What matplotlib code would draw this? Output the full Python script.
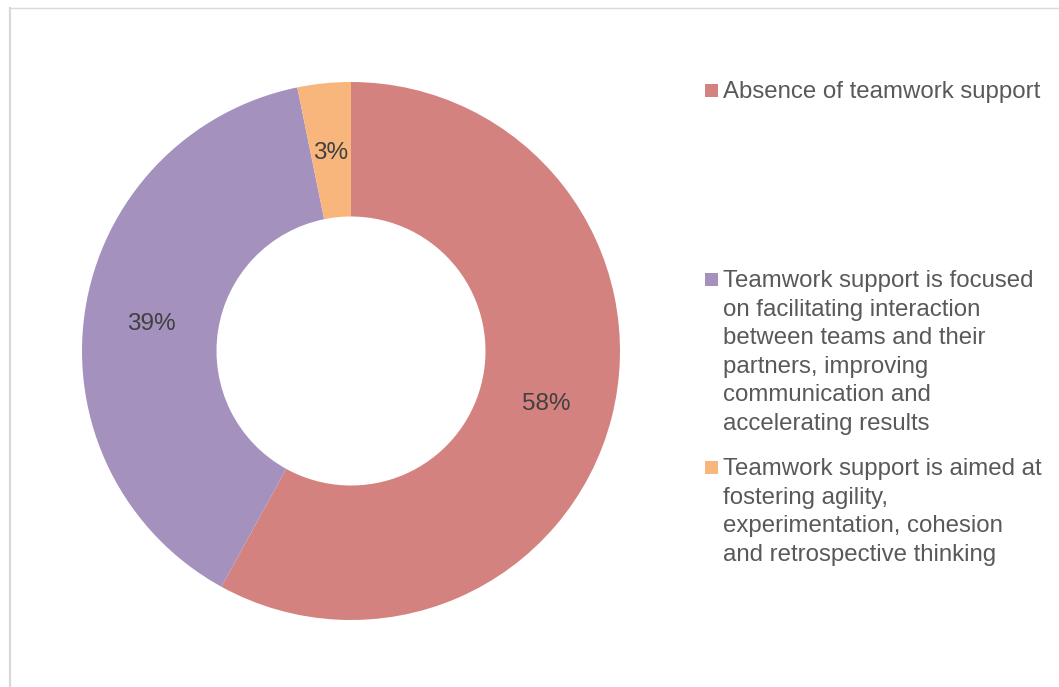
import matplotlib
matplotlib.use("Agg")
import matplotlib.pyplot as plt
from matplotlib.lines import Line2D
from matplotlib.patches import Rectangle
from matplotlib.transforms import offset_copy

categories = [
    "Absence of teamwork support",
    "Teamwork support is focused\non facilitating interaction\nbetween teams and their\npartners, improving\ncommunication and\naccelerating results",
    "Teamwork support is aimed at\nfostering agility,\nexperimentation, cohesion\nand retrospective thinking",
]
values = [58.0, 38.8, 3.2]
pct_labels = ["58%", "39%", "3%"]
colors = ["#D4827F", "#A591BE", "#F8B67D"]

W, H = 1059, 687
plt.rcParams['font.family'] = ['Liberation Sans', 'DejaVu Sans']
fig = plt.figure(figsize=(W / 100, H / 100), dpi=100)
fig.patch.set_facecolor("white")

# frame lines (light grey border)
fig.add_artist(Line2D([10 / W, 10 / W], [0, 1 - 8 / H], transform=fig.transFigure,
                      color="#D9D9D9", lw=1.6))
fig.add_artist(Line2D([10 / W, 1], [1 - 8 / H, 1 - 8 / H], transform=fig.transFigure,
                      color="#D9D9D9", lw=1.0))

cx, cy, r = 351, 351, 269
ax = fig.add_axes([(cx - r) / W, 1 - (cy + r) / H, 2 * r / W, 2 * r / H])
wedges, texts = ax.pie(values, colors=colors, startangle=90, counterclock=False,
                       radius=1.0, wedgeprops=dict(width=0.5, edgecolor="none"),
                       labels=pct_labels, labeldistance=0.75,
                       textprops=dict(fontsize=17.5, color="#404040"))
shift = offset_copy(ax.transData, fig=fig, x=0, y=-3, units="dots")
for t in texts:
    t.set_ha("center")
    t.set_va("center")
    t.set_transform(shift)
ax.set_xlim(-1, 1)
ax.set_ylim(-1, 1)
ax.set_aspect("equal")
ax.axis("off")

# legend drawn manually
entry_first_y = [90, 279, 467]
line_h = 28.6
for lab, col, y0 in zip(categories, colors, entry_first_y):
    fig.add_artist(Rectangle((705 / W, 1 - (y0 + 6.5) / H), 13 / W, 13 / H,
                             transform=fig.transFigure, facecolor=col, edgecolor="none"))
    for i, line in enumerate(lab.split("\n")):
        y = y0 + 2 + i * line_h
        fig.text(723 / W, 1 - y / H, line, fontsize=17.3, color="#595959",
                 ha="left", va="center")

fig.savefig("out.png", dpi=100, facecolor="white")
